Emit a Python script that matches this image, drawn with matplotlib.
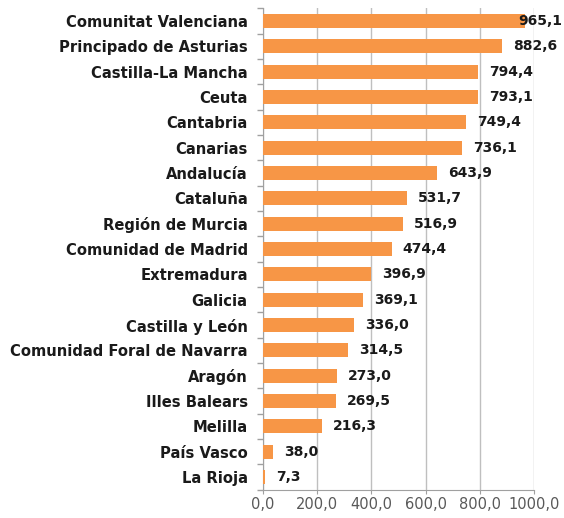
import matplotlib
matplotlib.use("Agg")
import matplotlib.pyplot as plt
from matplotlib.ticker import FuncFormatter
import numpy as np

regions = ["Comunitat Valenciana", "Principado de Asturias", "Castilla-La Mancha", "Ceuta",
           "Cantabria", "Canarias", "Andalucía", "Cataluña", "Región de Murcia",
           "Comunidad de Madrid", "Extremadura", "Galicia", "Castilla y León",
           "Comunidad Foral de Navarra", "Aragón", "Illes Balears", "Melilla",
           "País Vasco", "La Rioja"]
values = [965.1, 882.6, 794.4, 793.1, 749.4, 736.1, 643.9, 531.7, 516.9, 474.4,
          396.9, 369.1, 336.0, 314.5, 273.0, 269.5, 216.3, 38.0, 7.3]
xticks = [0, 200, 400, 600, 800, 1000]

plt.rcParams['font.family'] = ['DejaVu Sans']
fig = plt.figure(figsize=(5.64, 5.18), dpi=100)
ax = fig.add_axes([0.4663, 0.0546, 0.4805, 0.9293])

y = np.arange(len(regions))
ax.barh(y, values, height=0.56, color="#F79646", zorder=3)
ax.set_ylim(len(regions) - 0.5, -0.5)
ax.set_xlim(0, 1000)
ax.set_xticks(xticks)
ax.xaxis.set_major_formatter(FuncFormatter(lambda v, p: f"{v:.1f}".replace(".", ",")))
ax.grid(axis="x", color="#BFBFBF", linewidth=1, zorder=0)
ax.set_yticks(y)
ax.set_yticklabels(regions, fontsize=10.6, fontweight="bold", color="#1a1a1a")
ax.set_yticks(np.arange(len(regions) + 1) - 0.5, minor=True)
ax.tick_params(axis="y", which="major", length=0, pad=11)
ax.tick_params(axis="y", which="minor", length=4, color="#A0A0A0", width=1)
ax.tick_params(axis="x", length=3, color="#A0A0A0", labelsize=10.5, labelcolor="#595959", pad=2)
for s in ["top", "right"]:
    ax.spines[s].set_visible(False)
for s in ["left", "bottom"]:
    ax.spines[s].set_color("#A0A0A0")

texts = []
for yi, v in zip(y, values):
    t = ax.annotate(f"{v:.1f}".replace(".", ","), xy=(v, yi), xytext=(8, 0),
                    textcoords="offset points", va="center", ha="left",
                    fontsize=10, fontweight="bold", color="#1a1a1a", zorder=5)
    texts.append(t)

fig.canvas.draw()
r = fig.canvas.get_renderer()
W = fig.bbox.width
for t in texts:
    bb = t.get_window_extent(r)
    if bb.x1 > W - 2:
        shift = bb.x1 - (W - 2)
        ox, oy = t.xyann
        t.xyann = (ox - shift * 72 / fig.dpi, oy)

fig.savefig("out.png", dpi=100)
